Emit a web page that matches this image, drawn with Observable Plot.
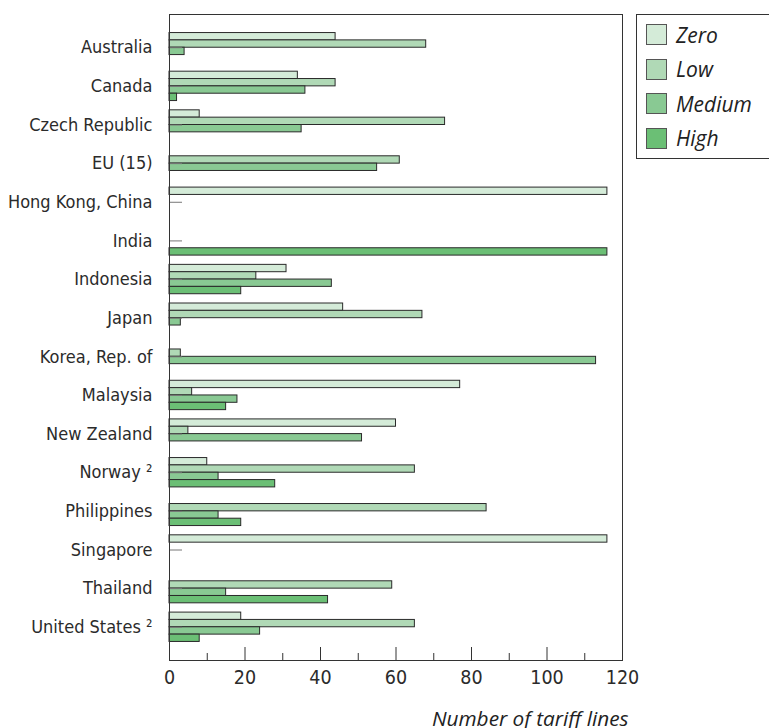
<!DOCTYPE html>
<html><head><meta charset="utf-8">
<script src="https://cdn.jsdelivr.net/npm/d3@7"></script>
<script src="https://cdn.jsdelivr.net/npm/@observablehq/plot@0.6"></script>
<style>
body{margin:0;overflow:hidden;background:#fff}
#wrap{position:relative;width:769px;height:728px;overflow:hidden}
#legend{position:absolute;left:636px;top:14px;width:150px;height:143px;border:1px solid #333;font-family:"Open Sans",sans-serif;font-style:italic;font-size:21px;color:#222}
.item{position:absolute;left:9px;height:22px;display:flex;align-items:center}
.sw{width:21px;height:21px;border:1px solid #555;margin-right:9px;box-sizing:border-box}
</style></head><body><div id="wrap"><div id="legend"></div></div>
<script>
const countries = ["Australia","Canada","Czech Republic","EU (15)","Hong Kong, China","India","Indonesia","Japan","Korea, Rep. of","Malaysia","New Zealand","Norway","Philippines","Singapore","Thailand","United States"];
const countryLabels = ["Australia","Canada","Czech Republic","EU (15)","Hong Kong, China","India","Indonesia","Japan","Korea, Rep. of","Malaysia","New Zealand","Norway \u00B2","Philippines","Singapore","Thailand","United States \u00B2"];
const series = ["Zero","Low","Medium","High"];
const colors = ["#d4ebd8","#b0d9b6","#89c993","#6bbf75"];
const zero   = [44,34, 8, 0,116,  0,31,46,  0,77,60,10, 0,116, 0,19];
const low    = [68,44,73,61,  0,  0,23,67,  3, 6, 5,65,84,  0,59,65];
const medium = [ 4,36,35,55,  0,  0,43, 3,113,18,51,13,13,  0,15,24];
const high   = [ 0, 2, 0, 0,  0,116,19, 0,  0,15, 0,28,19,  0,42, 8];
const majorTicks = [0,20,40,60,80,100,120];
const minorTicks = [10,30,50,70,90,110];
const xDomain = [0,120];
const xLabel = "Number of tariff lines";

const values = [zero, low, medium, high];
const rows = [];
countries.forEach((c, i) => series.forEach((s, k) => rows.push({country: c, series: s, value: values[k][i]})));

const W = 769, H = 728, mt = 14, mb = 68, ml = 169, mr = 147;
const pi = 0.24, po = 0.48;
const step = (H - mt - mb) / (countries.length - pi + 2 * po);
const slot = step * (1 - pi) / 4;

const labelFont = '"DejaVu Sans Condensed","Liberation Sans Narrow",sans-serif';

const bars = series.map((s, k) => Plot.barX(rows.filter(d => d.series === s && d.value > 0), {
  x: "value", y: "country", fill: "series", stroke: "#2a2a2a", strokeWidth: 1,
  insetTop: k * slot, insetBottom: (3 - k) * slot
}));

const chart = Plot.plot({
  width: W, height: H,
  marginTop: mt, marginBottom: mb, marginLeft: ml, marginRight: mr,
  x: {domain: xDomain},
  y: {domain: countries, paddingInner: pi, paddingOuter: po, round: false},
  color: {domain: series, range: colors},
  style: {fontFamily: labelFont, fontSize: "18px", color: "#2b2b2b", background: "#fff", overflow: "visible"},
  marks: [
    ...bars,
    Plot.axisY({tickSize: -13, tickPadding: 30, tickFormat: d => countryLabels[countries.indexOf(d)], stroke: "#777", fontSize: 18, label: null}),
    Plot.axisX({ticks: majorTicks, tickSize: -13, tickPadding: 23, fontSize: 19.5, stroke: "#333", label: null}),
    Plot.axisX({ticks: minorTicks, tickSize: -7, tickFormat: () => "", stroke: "#333", label: null}),
    Plot.frame({stroke: "#333"}),
    Plot.text([xLabel], {text: d => d, frameAnchor: "bottom-right", dx: 6, dy: 65, lineAnchor: "bottom", textAnchor: "end", fontStyle: "italic", fontSize: 20.8, fontFamily: '"Open Sans",sans-serif', fill: "#222"})
  ]
});
document.getElementById("wrap").prepend(chart);

const legend = document.getElementById("legend");
series.forEach((s, k) => {
  const it = document.createElement("div");
  it.className = "item";
  it.style.top = (8.5 + k * 34.5) + "px";
  const sw = document.createElement("div");
  sw.className = "sw";
  sw.style.background = colors[k];
  const t = document.createElement("span");
  t.textContent = s;
  it.append(sw, t);
  legend.append(it);
});
</script></body></html>
